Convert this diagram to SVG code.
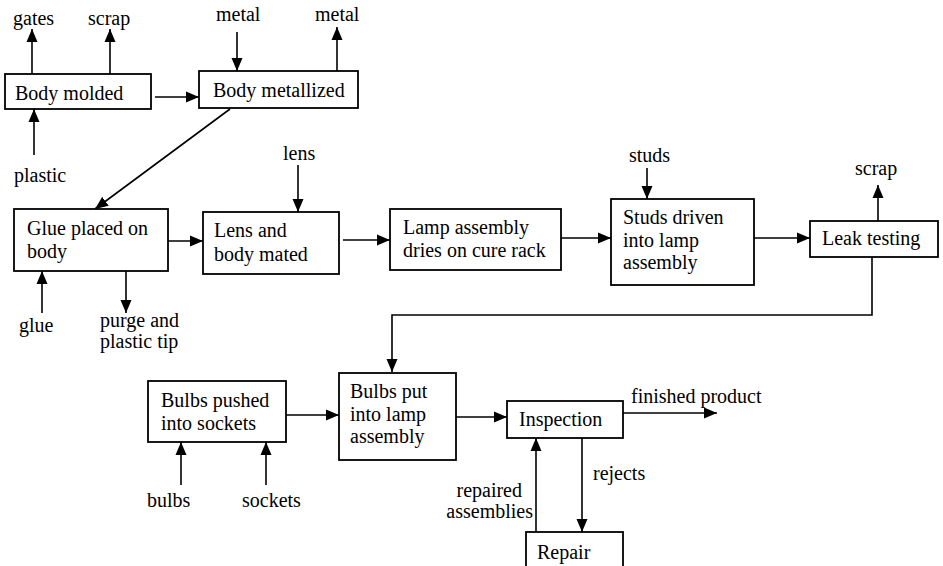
<svg xmlns="http://www.w3.org/2000/svg" width="943" height="566" viewBox="0 0 943 566">
<style>
.box{fill:#fff;stroke:#000;stroke-width:1.8}
.t{font-family:"Liberation Serif","DejaVu Serif",serif;font-size:20px;fill:#000}
.c{fill:none;stroke:#000;stroke-width:1.6}
</style>
<defs>
<marker id="a" markerUnits="userSpaceOnUse" markerWidth="14" markerHeight="12" refX="13" refY="6" orient="auto"><path d="M0,0.5 L13,6 L0,11.5 z" fill="#000"/></marker>
</defs>
<rect width="943" height="566" fill="#fff"/>
<g id="connectors">
<line class="c" x1="32" y1="74" x2="32" y2="29" marker-end="url(#a)"/>
<line class="c" x1="110" y1="74" x2="110" y2="29" marker-end="url(#a)"/>
<line class="c" x1="34" y1="155" x2="34" y2="109" marker-end="url(#a)"/>
<line class="c" x1="155" y1="97" x2="199" y2="97" marker-end="url(#a)"/>
<line class="c" x1="237" y1="32" x2="237" y2="71" marker-end="url(#a)"/>
<line class="c" x1="337" y1="71" x2="337" y2="27" marker-end="url(#a)"/>
<line class="c" x1="230" y1="109" x2="95" y2="209" marker-end="url(#a)"/>
<line class="c" x1="298" y1="165" x2="298" y2="212" marker-end="url(#a)"/>
<line class="c" x1="42" y1="313" x2="42" y2="271" marker-end="url(#a)"/>
<line class="c" x1="126" y1="271" x2="126" y2="313" marker-end="url(#a)"/>
<line class="c" x1="168" y1="241" x2="203" y2="241" marker-end="url(#a)"/>
<line class="c" x1="343" y1="240" x2="390" y2="240" marker-end="url(#a)"/>
<line class="c" x1="561" y1="238" x2="611" y2="238" marker-end="url(#a)"/>
<line class="c" x1="647" y1="168" x2="647" y2="199" marker-end="url(#a)"/>
<line class="c" x1="754" y1="238" x2="810" y2="238" marker-end="url(#a)"/>
<line class="c" x1="878" y1="221" x2="878" y2="185" marker-end="url(#a)"/>
<path class="c" d="M872,257 V315 H392 V372" marker-end="url(#a)"/>
<line class="c" x1="181" y1="485" x2="181" y2="442" marker-end="url(#a)"/>
<line class="c" x1="266" y1="485" x2="266" y2="442" marker-end="url(#a)"/>
<line class="c" x1="286" y1="415" x2="339" y2="415" marker-end="url(#a)"/>
<line class="c" x1="456" y1="417" x2="507" y2="417" marker-end="url(#a)"/>
<line class="c" x1="623" y1="413" x2="717" y2="413" marker-end="url(#a)"/>
<line class="c" x1="582" y1="438" x2="582" y2="532" marker-end="url(#a)"/>
<line class="c" x1="536" y1="532" x2="536" y2="438" marker-end="url(#a)"/>
</g>
<g id="labels">
<text class="t" x="13" y="25">gates</text>
<text class="t" x="88" y="25">scrap</text>
<text class="t" x="216" y="21">metal</text>
<text class="t" x="315" y="21">metal</text>
<text class="t" x="14" y="182">plastic</text>
<text class="t" x="283" y="160">lens</text>
<text class="t" x="19" y="332">glue</text>
<text class="t" x="100" y="327">purge and</text>
<text class="t" x="100" y="348">plastic tip</text>
<text class="t" x="629" y="162">studs</text>
<text class="t" x="855" y="175">scrap</text>
<text class="t" x="147" y="507">bulbs</text>
<text class="t" x="242" y="507">sockets</text>
<text class="t" x="631" y="403">finished product</text>
<text class="t" x="593" y="480">rejects</text>
<text class="t" x="522" y="497" text-anchor="end">repaired</text>
<text class="t" x="533" y="518" text-anchor="end">assemblies</text>
</g>
<g id="body-molded"><rect class="box" x="5" y="74" width="146" height="35"/><text class="t" x="15" y="100">Body molded</text></g>
<g id="body-metallized"><rect class="box" x="199" y="71" width="159" height="37"/><text class="t" x="213" y="97">Body metallized</text></g>
<g id="glue-placed"><rect class="box" x="14" y="209" width="154" height="62"/><text class="t" x="27" y="235">Glue placed on</text><text class="t" x="27" y="258">body</text></g>
<g id="lens-mated"><rect class="box" x="203" y="212" width="136" height="62"/><text class="t" x="214" y="237">Lens and</text><text class="t" x="214" y="261">body mated</text></g>
<g id="lamp-dries"><rect class="box" x="390" y="209" width="171" height="61"/><text class="t" x="403" y="234">Lamp assembly</text><text class="t" x="403" y="257">dries on cure rack</text></g>
<g id="studs-driven"><rect class="box" x="611" y="199" width="143" height="86"/><text class="t" x="623" y="224">Studs driven</text><text class="t" x="623" y="247">into lamp</text><text class="t" x="623" y="269">assembly</text></g>
<g id="leak-testing"><rect class="box" x="810" y="221" width="128" height="36"/><text class="t" x="822" y="245">Leak testing</text></g>
<g id="bulbs-pushed"><rect class="box" x="148" y="381" width="138" height="61"/><text class="t" x="161" y="407">Bulbs pushed</text><text class="t" x="161" y="430">into sockets</text></g>
<g id="bulbs-put"><rect class="box" x="339" y="373" width="117" height="87"/><text class="t" x="350" y="398">Bulbs put</text><text class="t" x="350" y="421">into lamp</text><text class="t" x="350" y="443">assembly</text></g>
<g id="inspection"><rect class="box" x="507" y="401" width="116" height="37"/><text class="t" x="519" y="426">Inspection</text></g>
<g id="repair"><rect class="box" x="526" y="532" width="97" height="40"/><text class="t" x="537" y="559">Repair</text></g>
</svg>
